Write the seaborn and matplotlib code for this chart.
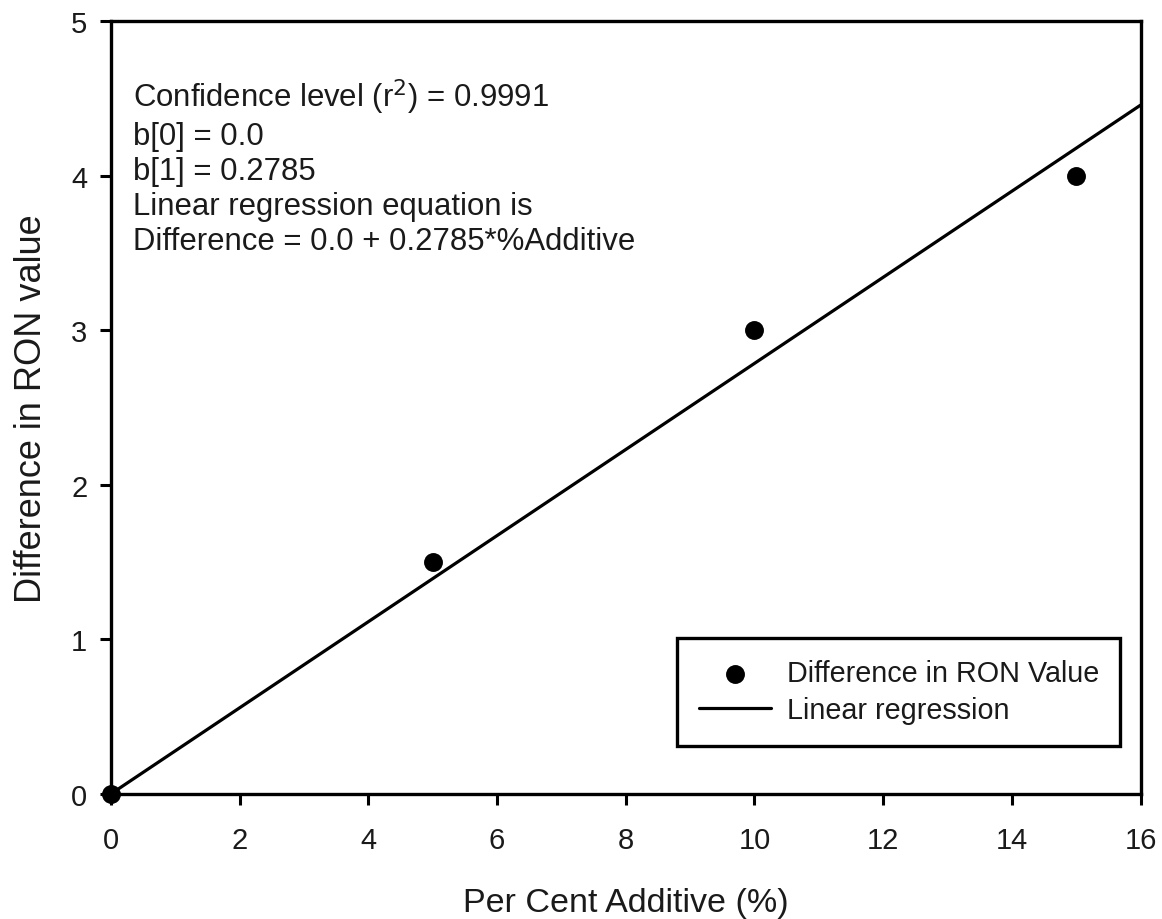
import matplotlib
matplotlib.use("Agg")
import matplotlib.pyplot as plt
import seaborn as sns
import numpy as np
import pandas as pd

# Data
additive_pct = [0, 5, 10, 15]
ron_difference = [0.0, 1.5, 3.0, 4.0]
b0 = 0.0
b1 = 0.2785
line_x = [0, 16]
x_ticks = [0, 2, 4, 6, 8, 10, 12, 14, 16]
y_ticks = [0, 1, 2, 3, 4, 5]

sns.set_theme(style="ticks")
plt.rcParams['font.family'] = ['Liberation Sans', 'DejaVu Sans']

fig = plt.figure(figsize=(11.62, 9.2), dpi=100)
ax = fig.add_axes([0.0955, 0.136, 0.886, 0.840])

df_pts = pd.DataFrame({"x": additive_pct, "y": ron_difference})
df_line = pd.DataFrame({"x": line_x, "y": [b0 + b1 * v for v in line_x]})

sns.lineplot(data=df_line, x="x", y="y", ax=ax, color="black", linewidth=2.3,
             label="Linear regression", zorder=3)
sns.scatterplot(data=df_pts, x="x", y="y", ax=ax, color="black", s=185,
                edgecolor="black", linewidth=0, label="Difference in RON Value",
                zorder=4, clip_on=False)

ax.set_xlim(0, 16)
ax.set_ylim(0, 5)
ax.set_xticks(x_ticks)
ax.set_yticks(y_ticks)
ax.tick_params(axis="both", direction="out", length=8, width=2.2, labelsize=21,
               colors="black")
ax.tick_params(axis="x", pad=15)
ax.tick_params(axis="y", pad=9)
for lab in ax.get_xticklabels() + ax.get_yticklabels():
    lab.set_color("#1a1a1a")
for sp in ax.spines.values():
    sp.set_visible(True)
    sp.set_linewidth(2.4)
    sp.set_color("black")

ax.set_xlabel("Per Cent Additive (%)", fontsize=24.5, labelpad=24, color="#1a1a1a")
ax.set_ylabel("Difference in RON value", fontsize=26, labelpad=16, color="#1a1a1a")

txt = ("Confidence level (r$^{2}$) = 0.9991\n"
       "b[0] = 0.0\n"
       "b[1] = 0.2785\n"
       "Linear regression equation is\n"
       "Difference = 0.0 + 0.2785*%Additive")
ax.text(0.021, 0.928, txt, transform=ax.transAxes, fontsize=22.4, va="top",
        ha="left", linespacing=1.22, color="#1a1a1a")

handles, labels = ax.get_legend_handles_labels()
order = [labels.index("Difference in RON Value"), labels.index("Linear regression")]
leg = ax.legend([handles[i] for i in order], [labels[i] for i in order],
                loc="lower right", bbox_to_anchor=(0.9805, 0.062),
                fontsize=20.7, frameon=True, fancybox=False, handlelength=2.5,
                borderpad=0.75, labelspacing=0.32, handletextpad=0.55,
                borderaxespad=0)
leg.get_frame().set_edgecolor("black")
leg.get_frame().set_linewidth(2.4)
leg.get_frame().set_alpha(1)
for t in leg.get_texts():
    t.set_color("#1a1a1a")

fig.savefig("out.png", dpi=100)
